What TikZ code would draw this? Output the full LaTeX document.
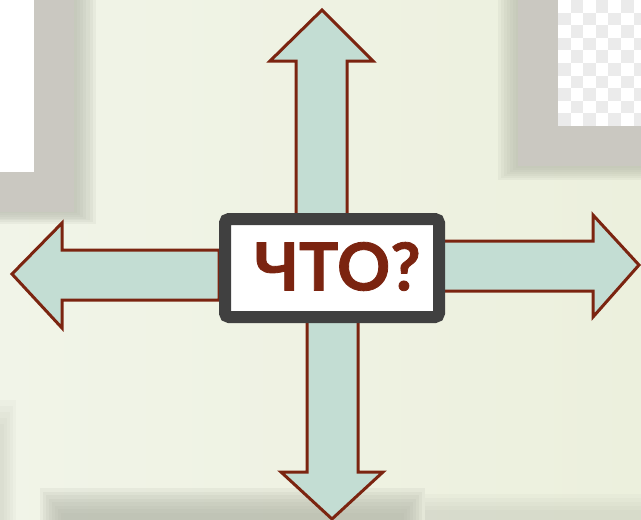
\documentclass[tikz,border=0pt]{standalone}
\usepackage{fontspec}
\newfontfamily\labelfont[BoldFeatures={FakeBold=1.2}]{Lato}
\definecolor{bgL}{HTML}{F1F4E8}
\definecolor{bgR}{HTML}{ECF0DD}
\definecolor{frame}{HTML}{CAC8C1}
\definecolor{shade}{HTML}{B4B8AA}
\definecolor{checker}{HTML}{EBEBEB}
\definecolor{arrowfill}{HTML}{C3DDD3}
\definecolor{arrowline}{HTML}{7B2410}
\definecolor{boxline}{HTML}{404040}
\tikzset{
  blockarrow/.style={fill=arrowfill, draw=arrowline, line width=3pt, line join=miter},
  framepanel/.style={fill=frame, draw=none},
  softshadow/.style={fill=shade, opacity=0.14, draw=none},
  centrebox/.style={draw=boxline, line width=12pt, fill=white, rounded corners=4pt,
    minimum width=214pt, minimum height=98pt, inner sep=0pt},
  wordlabel/.style={text=arrowline, font=\labelfont\bfseries\fontsize{66}{66}\selectfont, inner sep=0pt}
}
\begin{document}
\begin{tikzpicture}[x=1pt,y=-1pt]
\useasboundingbox (0,0) rectangle (641,520);
% background
\shade[left color=bgL, right color=bgR] (0,0) rectangle (641,520);
% left-edge soft shade at bottom
\foreach \k in {0,...,4} \fill[softshadow, opacity=0.08] (0,{400+\k*6}) rectangle ({16-\k*3},520);
% top-left frame with shadow
\foreach \k in {0,...,6} \fill[softshadow] (0,0) rectangle ({96-\k*3.2},{224-\k*1.8});
\fill[framepanel] (0,0) rectangle (74,212);
\fill[white] (0,0) rectangle (34,172);
% top-right frame with shadow
\foreach \k in {0,...,6} \fill[softshadow] ({498+\k*3},0) rectangle (641,{180-\k*2});
\fill[framepanel] (518,0) rectangle (641,166);
\fill[white] (558,0) rectangle (641,126);
\foreach \i in {0,...,6} {
  \foreach \j in {0,...,9} {
    \pgfmathparse{int(mod(\i+\j,2))}
    \ifnum\pgfmathresult=1
      \fill[checker] ({558+\i*12.6},{\j*12.6}) rectangle ({min(641,558+(\i+1)*12.6)},{min(126,(\j+1)*12.6)});
    \fi
  }
}
% bottom shadow band
\foreach \k in {0,...,7} \fill[softshadow, opacity=0.16] ({40+\k*3},{488+\k*3.5}) rectangle ({425-\k*3},520);
\foreach \k in {0,...,4} \fill[softshadow, opacity=0.08] ({425},{494+\k*4}) rectangle (641,520);
% arrows
\draw[blockarrow] (296,215) -- (296,61) -- (270,61) -- (322,10) -- (373,61) -- (347,61) -- (347,215) -- cycle;
\draw[blockarrow] (219,250) -- (62,250) -- (62,223) -- (12,274) -- (62,328) -- (62,300) -- (219,300) -- cycle;
\draw[blockarrow] (439,241) -- (593,241) -- (593,215) -- (639,265) -- (593,317) -- (593,291) -- (439,291) -- cycle;
\draw[blockarrow] (307,317) -- (307,472) -- (281,472) -- (332,519) -- (383,472) -- (358,472) -- (358,317) -- cycle;
% centre box
\node[centrebox] (box) at (332,268) {};
\node[wordlabel] (word) at (337.5,266.5) {ЧТО?};
\end{tikzpicture}
\end{document}
